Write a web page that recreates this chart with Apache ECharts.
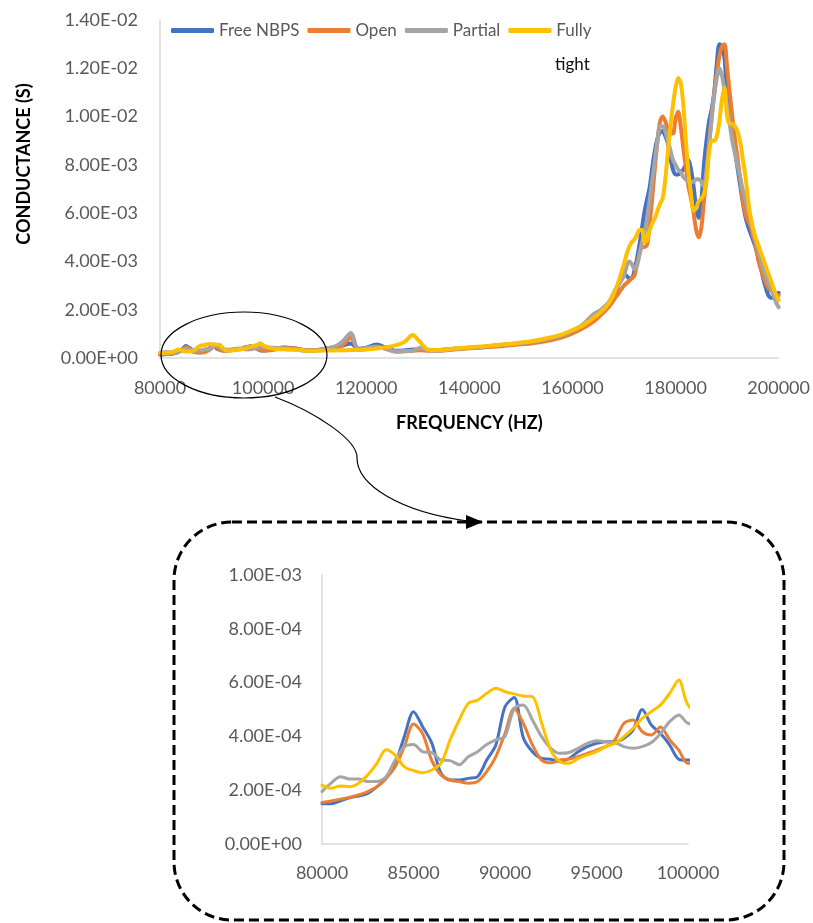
<!DOCTYPE html>
<html>
<head>
<meta charset="utf-8">
<script src="https://cdn.jsdelivr.net/npm/echarts@6/dist/echarts.min.js"></script>
<style>
  html, body { margin: 0; padding: 0; background: #fff; }
  #chart { width: 813px; height: 923px; }
</style>
</head>
<body>
<div id="chart"></div>
<script>
// frequency samples (Hz)
const freqLow = [80000, 80500, 81000, 81500, 82000, 82500, 83000, 83500, 84000, 84500,
  85000, 85500, 86000, 86500, 87000, 87500, 88000, 88500, 89000, 89500,
  90000, 90500, 91000, 91500, 92000, 92500, 93000, 93500, 94000, 94500,
  95000, 95500, 96000, 96500, 97000, 97500, 98000, 98500, 99000, 99500, 100000];
const freqMid = [102000, 104000, 106000, 108000, 110000, 112000, 114000, 115500, 117000, 118500,
  120000, 122000, 124000, 126000, 127500, 129000, 130500, 132000, 134000, 137000,
  140000, 143000, 146000, 149000, 152000, 155000, 158000, 160000, 162000, 164000,
  165500, 167000, 168500];
const freqHigh = [170000, 170500, 171000, 171500, 172000, 172500, 173000, 173500, 174000, 174500,
  175000, 175500, 176000, 176500, 177000, 177500, 178000, 178500, 179000, 179500,
  180000, 180500, 181000, 181500, 182000, 182500, 183000, 183500, 184000, 184500,
  185000, 185500, 186000, 186500, 187000, 187500, 188000, 188500, 189000, 189500,
  190000, 190500, 191000, 191500, 192000, 192500, 193000, 193500, 194000, 194500,
  195000, 195500, 196000, 196500, 197000, 197500, 198000, 198500, 199000, 199500, 200000];

// conductance values in units of 1e-4 S
const SCALE = 1e-4;
const freeLow = [1.5, 1.5, 1.6, 1.72, 1.78, 1.88, 2.13, 2.44, 3.0, 4.0,
  4.92, 4.36, 3.75, 2.63, 2.38, 2.38, 2.44, 2.5, 3.12, 3.68,
  5.1, 5.45, 3.95, 3.43, 3.18, 3.15, 3.06, 3.18, 3.43, 3.62,
  3.74, 3.8, 3.8, 3.93, 4.24, 5.0, 4.42, 4.11, 3.68, 3.15, 3.12];
const freeMid = [3.6, 4.3, 4.0, 3.3, 3.2, 3.8, 4.5, 5.2, 6.0, 3.8,
  4.3, 5.6, 4.0, 3.0, 3.2, 3.5, 3.4, 3.3, 3.3, 3.8,
  4.2, 4.6, 5.3, 5.9, 6.6, 7.8, 9.5, 11.0, 13.0, 16.0, 18.5, 21.5, 28];
const freeHigh = [35, 34, 33, 33, 36, 41, 47, 54, 61, 66, 71, 79, 86, 91, 93.5, 94, 92, 89, 83, 78,
  76, 76, 77, 78, 80, 82, 78, 71, 62, 58, 65, 80, 90, 98, 103, 110, 122, 130, 129, 124,
  108, 100, 92, 86, 79, 72, 65, 59, 55, 52, 49, 46, 42, 38, 33, 29, 26, 25, 25, 26, 27];

const openLow = [1.54, 1.6, 1.66, 1.73, 1.82, 1.95, 2.13, 2.44, 2.87, 3.62,
  4.46, 4.1, 3.1, 2.57, 2.38, 2.32, 2.26, 2.32, 2.69, 3.25,
  4.11, 5.04, 4.49, 3.68, 3.12, 3.02, 3.12, 3.16, 3.25, 3.37,
  3.49, 3.62, 3.87, 4.49, 4.61, 4.18, 4.05, 4.35, 3.87, 3.49, 3.0];
const openMid = [3.4, 4.2, 4.0, 3.2, 3.1, 3.6, 4.3, 5.5, 8.5, 3.5,
  4.0, 4.8, 3.6, 2.7, 2.8, 3.0, 3.2, 3.0, 3.0, 3.5,
  4.0, 4.4, 4.9, 5.5, 6.0, 7.0, 8.6, 10.2, 12.3, 15.0, 17.8, 21.0, 25.5];
const openHigh = [30, 31, 32, 33, 34, 39, 43, 46, 46, 47, 56, 67, 79, 90, 98, 100, 98, 95, 93, 93,
  99, 102, 96, 87, 79, 71, 66, 60, 53, 50, 54, 65, 75, 89, 100, 110, 118, 125, 129, 130,
  120, 110, 100, 91, 83, 75, 66, 60, 57, 55, 51, 47, 41, 37, 34, 31, 29, 28, 27, 26, 26];

const partialLow = [1.95, 2.26, 2.5, 2.42, 2.42, 2.32, 2.32, 2.5, 3.12, 3.62,
  3.7, 3.43, 3.4, 3.12, 3.1, 2.95, 3.25, 3.43, 3.7, 3.87,
  4.0, 5.04, 5.17, 4.61, 3.99, 3.56, 3.37, 3.4, 3.56, 3.74,
  3.84, 3.8, 3.77, 3.62, 3.56, 3.62, 3.77, 4.11, 4.55, 4.8, 4.49];
const partialMid = [4.2, 4.0, 3.7, 3.0, 3.0, 3.9, 4.8, 7.0, 10.4, 3.6,
  4.0, 4.6, 3.8, 2.6, 2.9, 3.0, 4.2, 3.2, 3.1, 3.7,
  4.2, 4.7, 5.4, 5.9, 6.7, 7.9, 9.4, 11.2, 13.8, 18.0, 20.0, 23.0, 29.0];
const partialHigh = [34, 38, 40, 39, 37, 38, 43, 48, 52, 58, 66, 74, 82, 90, 96, 96, 94, 90, 86, 82,
  80, 78, 77, 75, 74, 73, 73, 73, 74, 74, 73, 71, 78, 88, 99, 109, 116, 120, 117, 111,
  104, 97, 90, 85, 80, 75, 70, 66, 62, 58, 53, 49, 45, 41, 37, 34, 31, 29, 26, 23, 21];

const fullyLow = [2.19, 2.07, 2.16, 2.13, 2.26, 2.57, 3.0, 3.5, 3.3, 2.87,
  2.73, 2.65, 2.75, 3.0, 3.87, 4.61, 5.23, 5.35, 5.6, 5.79,
  5.66, 5.58, 5.5, 5.48, 4.5, 3.49, 3.06, 3.0, 3.18, 3.31,
  3.43, 3.62, 3.74, 3.99, 4.3, 4.67, 4.92, 5.17, 5.6, 6.1, 5.17];
const fullyMid = [3.8, 3.6, 3.4, 3.1, 3.0, 3.1, 3.1, 3.2, 3.3, 3.3,
  3.5, 3.9, 4.5, 5.4, 6.8, 9.5, 6.4, 3.5, 3.3, 3.9,
  4.4, 4.9, 5.5, 6.1, 6.9, 8.2, 9.8, 11.6, 13.5, 16.5, 19.0, 22.5, 29.0];
const fullyHigh = [39, 43, 46, 48, 49, 51, 53, 53, 48, 49, 53, 56, 58, 61, 64, 66, 74, 85, 96, 105,
  112, 116, 114, 105, 90, 77, 68, 61, 62, 65, 66, 68, 73, 85, 90, 90, 92, 98, 107, 112,
  100, 97, 97, 96, 94, 90, 83, 76, 67, 59, 54, 50, 47, 44, 41, 38, 35, 32, 29, 26, 24];

const seriesNames = ['Free NBPS', 'Open', 'Partial', 'Fully'];
const seriesColors = ['#4472C4', '#ED7D31', '#A5A5A5', '#FFC000'];

const freq = freqLow.concat(freqMid, freqHigh);
const seriesValues = [
  freeLow.concat(freeMid, freeHigh),
  openLow.concat(openMid, openHigh),
  partialLow.concat(partialMid, partialHigh),
  fullyLow.concat(fullyMid, fullyHigh),
];

const FONT = 'Lato, "Open Sans", sans-serif';
const LABEL_COLOR = '#595959';

function sci(v) {
  const parts = v.toExponential(2).split('e');
  const exp = parts[1];
  return parts[0] + 'E' + exp[0] + exp.slice(1).padStart(2, '0');
}

function makeSeries(idx, axis, width) {
  const vals = seriesValues[idx];
  return {
    name: seriesNames[idx],
    type: 'line',
    xAxisIndex: axis,
    yAxisIndex: axis,
    data: freq.map((f, i) => [f, vals[i] * SCALE]),
    showSymbol: false,
    smooth: 0.3,
    clip: true,
    lineStyle: { color: seriesColors[idx], width: width, cap: 'round', join: 'round' },
    itemStyle: { color: seriesColors[idx] },
  };
}

const axisLabel = { color: LABEL_COLOR, fontSize: 18, fontFamily: FONT };
const axisLine = { show: true, lineStyle: { color: '#d9d9d9', width: 1.5 } };
const plain = v => String(v);

const chart = echarts.init(document.getElementById('chart'));
chart.setOption({
  animation: false,
  backgroundColor: '#fff',
  legend: {
    data: seriesNames,
    left: 171,
    top: 22,
    padding: 0,
    icon: 'roundRect',
    itemWidth: 43,
    itemHeight: 5,
    itemGap: 8,
    textStyle: { color: LABEL_COLOR, fontSize: 17, fontFamily: FONT },
  },
  grid: [
    { left: 160, top: 20, width: 620, height: 338 },
    { left: 322, top: 575, width: 366, height: 269 },
  ],
  xAxis: [
    {
      gridIndex: 0, type: 'value', min: 80000, max: 200000, interval: 20000,
      axisLine: axisLine, axisTick: { show: false }, splitLine: { show: false },
      axisLabel: Object.assign({ margin: 21, formatter: plain }, axisLabel),
      name: 'FREQUENCY (HZ)', nameLocation: 'middle', nameGap: 56,
      nameTextStyle: { fontSize: 18, fontWeight: 'bold', color: '#000', fontFamily: FONT },
    },
    {
      gridIndex: 1, type: 'value', min: 80000, max: 100000, interval: 5000,
      axisLine: axisLine, axisTick: { show: false }, splitLine: { show: false },
      axisLabel: Object.assign({ margin: 20, formatter: plain }, axisLabel),
    },
  ],
  yAxis: [
    {
      gridIndex: 0, type: 'value', min: 0, max: 0.014, interval: 0.002,
      axisLine: axisLine, axisTick: { show: false }, splitLine: { show: false },
      axisLabel: Object.assign({ margin: 22, formatter: sci }, axisLabel),
    },
    {
      gridIndex: 1, type: 'value', min: 0, max: 0.001, interval: 0.0002,
      axisLine: axisLine, axisTick: { show: false }, splitLine: { show: false },
      axisLabel: Object.assign({ margin: 20, formatter: sci }, axisLabel),
    },
  ],
  series: [
    makeSeries(0, 0, 4), makeSeries(1, 0, 4), makeSeries(2, 0, 4), makeSeries(3, 0, 4),
    makeSeries(0, 1, 3), makeSeries(1, 1, 3), makeSeries(2, 1, 3), makeSeries(3, 1, 3),
  ],
  graphic: [
    {
      // y axis title, sits above the plot's middle as in the original
      type: 'text', x: 24, y: 164, rotation: Math.PI / 2, z: 100,
      style: {
        text: 'CONDUCTANCE (S)', fontSize: 18, fontWeight: 'bold', fontFamily: FONT,
        fill: '#000', align: 'center', verticalAlign: 'middle',
        textAlign: 'center', textVerticalAlign: 'middle',
      },
    },
    {
      type: 'text', x: 555, y: 56, z: 100,
      style: { text: 'tight', fontSize: 17, fontFamily: FONT, fill: '#111' },
    },
    {
      type: 'ellipse', z: 100,
      shape: { cx: 244, cy: 355, rx: 83, ry: 43 },
      style: { fill: 'none', stroke: '#000', lineWidth: 1.2 },
    },
    {
      type: 'bezierCurve', z: 100,
      shape: { x1: 275, y1: 397, cpx1: 315, cpy1: 412, cpx2: 358, cpy2: 440, x2: 357, y2: 458 },
      style: { fill: 'none', stroke: '#000', lineWidth: 1.2 },
    },
    {
      type: 'bezierCurve', z: 100,
      shape: { x1: 357, y1: 458, cpx1: 357, cpy1: 485, cpx2: 400, cpy2: 512, x2: 468, y2: 521 },
      style: { fill: 'none', stroke: '#000', lineWidth: 1.2 },
    },
    {
      type: 'polygon', z: 101,
      shape: { points: [[483, 522], [466, 515], [466, 529]] },
      style: { fill: '#000' },
    },
    {
      type: 'rect', z: 100,
      shape: { x: 174, y: 522, width: 610, height: 398, r: 58 },
      style: { fill: 'none', stroke: '#000', lineWidth: 3, lineDash: [10, 5] },
    },
  ],
});
</script>
</body>
</html>
